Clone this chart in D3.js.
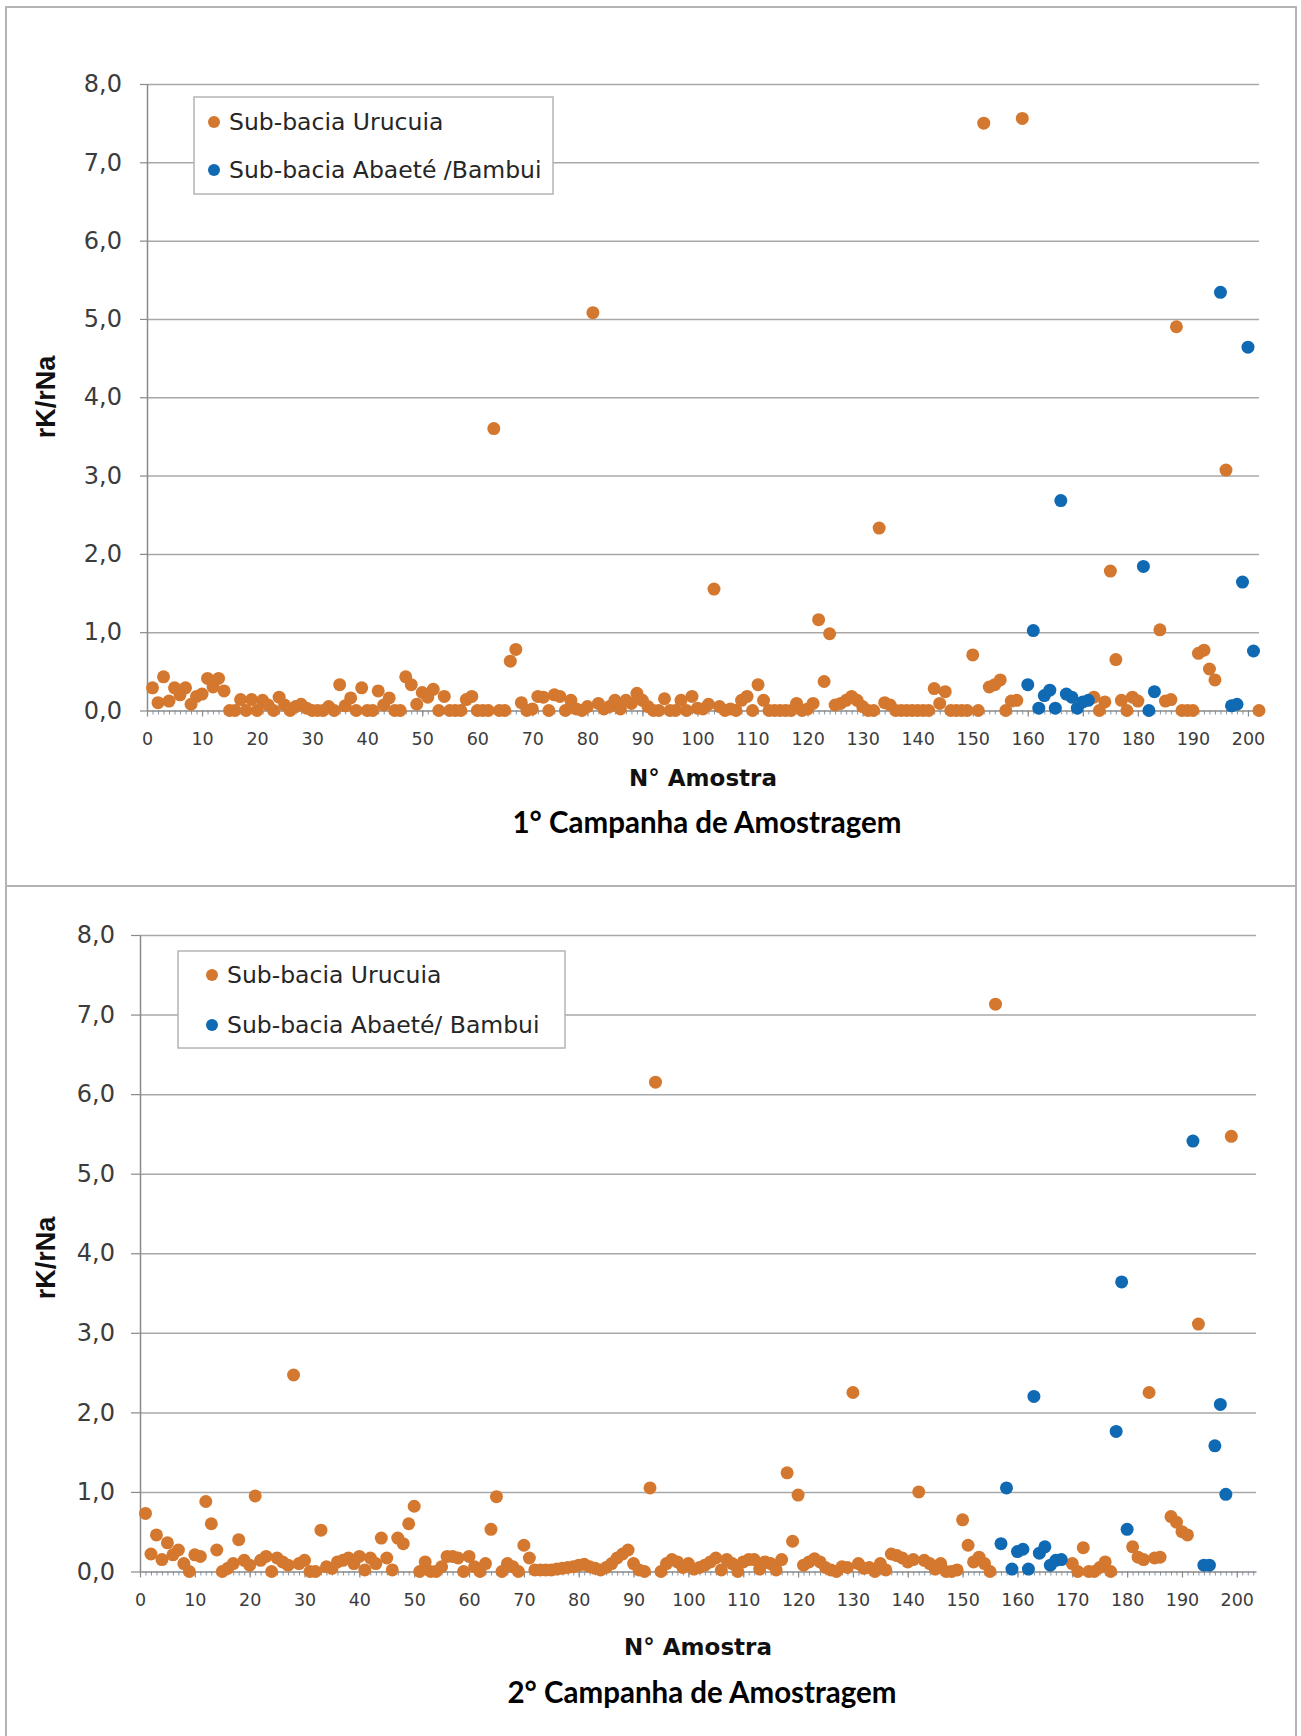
<!DOCTYPE html>
<html>
<head>
<meta charset="utf-8">
<title>rK/rNa - Campanhas de Amostragem</title>
<style>
body { margin: 0; background: #fff; }
.panel { fill: #fff; stroke: #b4b4b4; stroke-width: 2px; }
.grid line { stroke: #a8a8a8; stroke-width: 1.5px; }
.grid .domain { display: none; }
.axis .domain { stroke: #8a8a8a; stroke-width: 1.5px; }
.axis line { stroke: #8a8a8a; stroke-width: 1.2px; }
.minor line { stroke: #8594a8; stroke-width: 1px; }
.minor .domain { display: none; }
.axis text { font-family: "DejaVu Sans", Verdana, sans-serif; fill: #3c3c3c; }
.ytitle { font-family: "Liberation Sans", Arial, sans-serif; font-weight: bold; font-size: 27px; fill: #111; }
.xtitle { font-family: "DejaVu Sans", Verdana, sans-serif; font-weight: bold; font-size: 23px; fill: #111; }
.ctitle { font-family: Lato, "Open Sans", sans-serif; font-weight: bold; font-size: 29.5px; fill: #000; }
.legend rect { fill: #fff; stroke: #b4b4b4; stroke-width: 1.5px; }
.legend text { font-family: "DejaVu Sans", Verdana, sans-serif; font-size: 23.5px; fill: #262626; }
</style>
</head>
<body>
<svg width="1301" height="1736"></svg>

<script src="https://d3js.org/d3.v7.min.js"></script>
<script>

// tick values
var yTicks = [0, 1, 2, 3, 4, 5, 6, 7, 8];
var xTicks = [0, 10, 20, 30, 40, 50, 60, 70, 80, 90, 100, 110, 120, 130, 140, 150, 160, 170, 180, 190, 200];

// 1a campanha - Sub-bacia Urucuia  [n amostra, rK/rNa]
var urucuia1 = [
  [1,0.29],[2,0.10],[3,0.43],[4,0.12],[5,0.29],[6,0.20],[7,0.29],[8,0.08],[9,0.18],[10,0.21],
  [11,0.41],[12,0.30],[13,0.41],[14,0.25],[15,0],[16,0],[17,0.14],[18,0],[19,0.14],[20,0],
  [21,0.13],[22,0.07],[23,0],[24,0.17],[25,0.07],[26,0],[27,0.05],[28,0.08],[29,0.03],[30,0],
  [31,0],[32,0],[33,0.05],[34,0],[35,0.33],[36,0.06],[37,0.16],[38,0],[39,0.29],[40,0],
  [41,0],[42,0.25],[43,0.07],[44,0.16],[45,0],[46,0],[47,0.43],[48,0.33],[49,0.08],[50,0.23],
  [51,0.17],[52,0.27],[53,0],[54,0.18],[55,0],[56,0],[57,0],[58,0.14],[59,0.18],[60,0],
  [61,0],[62,0],[63,3.60],[64,0],[65,0],[66,0.63],[67,0.78],[68,0.10],[69,0],[70,0.02],
  [71,0.18],[72,0.17],[73,0],[74,0.20],[75,0.18],[76,0],[77,0.13],[78,0.02],[79,0],[80,0.05],
  [81,5.08],[82,0.09],[83,0.02],[84,0.05],[85,0.13],[86,0.02],[87,0.13],[88,0.09],[89,0.22],[90,0.13],
  [91,0.05],[92,0],[93,0],[94,0.15],[95,0],[96,0],[97,0.13],[98,0],[99,0.18],[100,0.03],
  [101,0.02],[102,0.08],[103,1.55],[104,0.05],[105,0],[106,0.02],[107,0],[108,0.13],[109,0.18],[110,0],
  [111,0.33],[112,0.13],[113,0],[114,0],[115,0],[116,0],[117,0],[118,0.09],[119,0],[120,0.02],
  [121,0.09],[122,1.16],[123,0.37],[124,0.98],[125,0.07],[126,0.09],[127,0.13],[128,0.18],[129,0.13],[130,0.05],
  [131,0],[132,0],[133,2.33],[134,0.10],[135,0.07],[136,0],[137,0],[138,0],[139,0],[140,0],
  [141,0],[142,0],[143,0.28],[144,0.09],[145,0.24],[146,0],[147,0],[148,0],[149,0],[150,0.71],
  [151,0],[152,7.50],[153,0.30],[154,0.33],[155,0.39],[156,0],[157,0.12],[158,0.13],[159,7.56],
  [172,0.17],[173,0],[174,0.11],[175,1.78],[176,0.65],[177,0.13],[178,0],[179,0.17],[180,0.12],
  [184,1.03],[185,0.12],[186,0.14],[187,4.90],[188,0],[189,0],[190,0],
  [191,0.73],[192,0.77],[193,0.53],[194,0.39],[196,3.07],[202,0]
];

// 1a campanha - Sub-bacia Abaete/Bambui
var bambui1 = [
  [160,0.33],[161,1.02],[162,0.03],[163,0.19],[164,0.26],[165,0.03],[166,2.68],[167,0.21],[168,0.17],
  [169,0.03],[170,0.11],[171,0.13],[181,1.84],[182,0],[183,0.24],[195,5.34],[197,0.06],[198,0.08],
  [199,1.64],[200,4.64],[201,0.76]
];

// 2a campanha - Sub-bacia Urucuia
var urucuia2 = [
  [1,0.73],[2,0.22],[3,0.46],[4,0.15],[5,0.36],[6,0.21],[7,0.27],[8,0.10],[9,0],[10,0.21],
  [11,0.19],[12,0.88],[13,0.60],[14,0.27],[15,0],[16,0.04],[17,0.10],[18,0.40],[19,0.14],[20,0.08],
  [21,0.95],[22,0.14],[23,0.19],[24,0],[25,0.17],[26,0.12],[27,0.08],[28,2.47],[29,0.10],[30,0.14],
  [31,0],[32,0],[33,0.52],[34,0.06],[35,0.04],[36,0.12],[37,0.14],[38,0.17],[39,0.10],[40,0.19],
  [41,0.02],[42,0.17],[43,0.10],[44,0.42],[45,0.17],[46,0.02],[47,0.42],[48,0.35],[49,0.60],[50,0.82],
  [51,0],[52,0.12],[53,0],[54,0],[55,0.06],[56,0.19],[57,0.19],[58,0.17],[59,0],[60,0.19],
  [61,0.06],[62,0],[63,0.10],[64,0.53],[65,0.94],[66,0],[67,0.10],[68,0.06],[69,0],[70,0.33],
  [71,0.17],[72,0.02],[73,0.02],[74,0.02],[75,0.02],[76,0.03],[77,0.04],[78,0.05],[79,0.06],[80,0.08],
  [81,0.09],[82,0.06],[83,0.04],[84,0.02],[85,0.05],[86,0.10],[87,0.17],[88,0.22],[89,0.27],[90,0.10],
  [91,0.02],[92,0],[93,1.05],[94,6.15],[95,0],[96,0.10],[97,0.15],[98,0.12],[99,0.05],[100,0.10],
  [101,0.03],[102,0.05],[103,0.08],[104,0.12],[105,0.17],[106,0.02],[107,0.15],[108,0.10],[109,0],[110,0.12],
  [111,0.15],[112,0.15],[113,0.03],[114,0.12],[115,0.10],[116,0.02],[117,0.15],[118,1.24],[119,0.38],[120,0.96],
  [121,0.08],[122,0.12],[123,0.16],[124,0.12],[125,0.05],[126,0.02],[127,0],[128,0.06],[129,0.05],[130,2.25],
  [131,0.10],[132,0.04],[133,0.05],[134,0],[135,0.10],[136,0.02],[137,0.22],[138,0.20],[139,0.17],[140,0.12],
  [141,0.15],[142,1.00],[143,0.14],[144,0.10],[145,0.03],[146,0.10],[147,0],[148,0],[149,0.02],[150,0.65],
  [151,0.33],[152,0.12],[153,0.18],[154,0.10],[155,0],[156,7.13],
  [170,0.10],[171,0],[172,0.30],[173,0],[174,0],[175,0.05],[176,0.12],[177,0],
  [181,0.31],[182,0.18],[183,0.15],[184,2.25],[185,0.17],[186,0.18],[188,0.69],[189,0.62],[190,0.50],
  [191,0.46],[193,3.11],[199,5.47]
];

// 2a campanha - Sub-bacia Abaete/Bambui
var bambui2 = [
  [157,0.35],[158,1.05],[159,0.03],[160,0.25],[161,0.28],[162,0.03],[163,2.20],[164,0.23],[165,0.31],
  [166,0.08],[167,0.14],[168,0.15],[178,1.76],[179,3.64],[180,0.53],[192,5.41],[194,0.08],[195,0.08],
  [196,1.58],[197,2.10],[198,0.97]
];

var orange = "#d4782f",
    blue = "#0f69b3";

var svg = d3.select("svg");

var panels = [
  { box: [6, 7, 1290, 879], x: [147, 1259], xmax: 202, y: [710.5, 84], ytick: 7,
    urucuia: urucuia1, bambui: bambui1,
    legend: { x: 194, y: 97, w: 359, h: 97, mx: 214, tx: 229, rows: [122, 170] },
    bambuiName: "Sub-bacia Abaeté /Bambui",
    ytitleY: 397, xtitleY: 786, ctitleY: 833, title: "1° Campanha de Amostragem" },
  { box: [6, 886, 1290, 860], x: [140, 1256], xmax: 203.5, y: [1571.5, 935], ytick: 9,
    urucuia: urucuia2, bambui: bambui2,
    legend: { x: 178, y: 951, w: 387, h: 97, mx: 212, tx: 227, rows: [975, 1025] },
    bambuiName: "Sub-bacia Abaeté/ Bambui",
    ytitleY: 1258, xtitleY: 1655, ctitleY: 1703, title: "2° Campanha de Amostragem" }
];

panels.forEach(function(p) {
  var x = d3.scaleLinear().domain([0, p.xmax]).range(p.x),
      y = d3.scaleLinear().domain([0, 8]).range(p.y);
  var x0 = p.x[0], y0 = p.y[0];

  svg.append("rect").attr("class", "panel")
      .attr("x", p.box[0]).attr("y", p.box[1])
      .attr("width", p.box[2]).attr("height", p.box[3]);

  // horizontal gridlines
  svg.append("g").attr("class", "grid")
      .attr("transform", "translate(" + x0 + ",0)")
      .call(d3.axisLeft(y).tickValues(yTicks.slice(1)).tickSize(-(p.x[1] - x0)).tickFormat(""));

  // y axis
  svg.append("g").attr("class", "axis")
      .attr("transform", "translate(" + x0 + ",0)")
      .call(d3.axisLeft(y).tickValues(yTicks).tickSize(p.ytick).tickPadding(25 - p.ytick)
        .tickSizeOuter(0)
        .tickFormat(function(d) { return d3.format(".1f")(d).replace(".", ","); }))
    .selectAll("text").style("font-size", "24px");

  // minor ticks on x axis (one per sample)
  svg.append("g").attr("class", "minor")
      .attr("transform", "translate(0," + y0 + ")")
      .call(d3.axisBottom(x).tickValues(d3.range(1, Math.floor(p.xmax) + 1)).tickSize(4).tickFormat(""));

  // x axis
  svg.append("g").attr("class", "axis")
      .attr("transform", "translate(0," + y0 + ")")
      .call(d3.axisBottom(x).tickValues(xTicks).tickSize(6).tickPadding(16).tickSizeOuter(0))
    .selectAll("text").style("font-size", "17.5px");

  // points
  svg.append("g").selectAll("circle")
      .data(p.urucuia)
    .enter().append("circle")
      .attr("cx", function(d) { return x(d[0]); })
      .attr("cy", function(d) { return y(d[1]); })
      .attr("r", 6.5)
      .attr("fill", orange);

  svg.append("g").selectAll("circle")
      .data(p.bambui)
    .enter().append("circle")
      .attr("cx", function(d) { return x(d[0]); })
      .attr("cy", function(d) { return y(d[1]); })
      .attr("r", 6.5)
      .attr("fill", blue);

  // legend
  var lg = svg.append("g").attr("class", "legend");
  lg.append("rect").attr("x", p.legend.x).attr("y", p.legend.y)
      .attr("width", p.legend.w).attr("height", p.legend.h);
  var items = [["Sub-bacia Urucuia", orange], [p.bambuiName, blue]];
  items.forEach(function(it, i) {
    lg.append("circle").attr("cx", p.legend.mx).attr("cy", p.legend.rows[i]).attr("r", 6).attr("fill", it[1]);
    lg.append("text").attr("x", p.legend.tx).attr("y", p.legend.rows[i]).attr("dy", "0.36em").text(it[0]);
  });

  // titles
  svg.append("text").attr("class", "ytitle")
      .attr("transform", "translate(55," + p.ytitleY + ") rotate(-90)")
      .attr("text-anchor", "middle")
      .text("rK/rNa");

  svg.append("text").attr("class", "xtitle")
      .attr("x", (p.x[0] + p.x[1]) / 2).attr("y", p.xtitleY)
      .attr("text-anchor", "middle")
      .text("N° Amostra");

  svg.append("text").attr("class", "ctitle")
      .attr("x", (p.x[0] + p.x[1]) / 2 + 4).attr("y", p.ctitleY)
      .attr("text-anchor", "middle")
      .text(p.title);
});

</script>
</body>
</html>
